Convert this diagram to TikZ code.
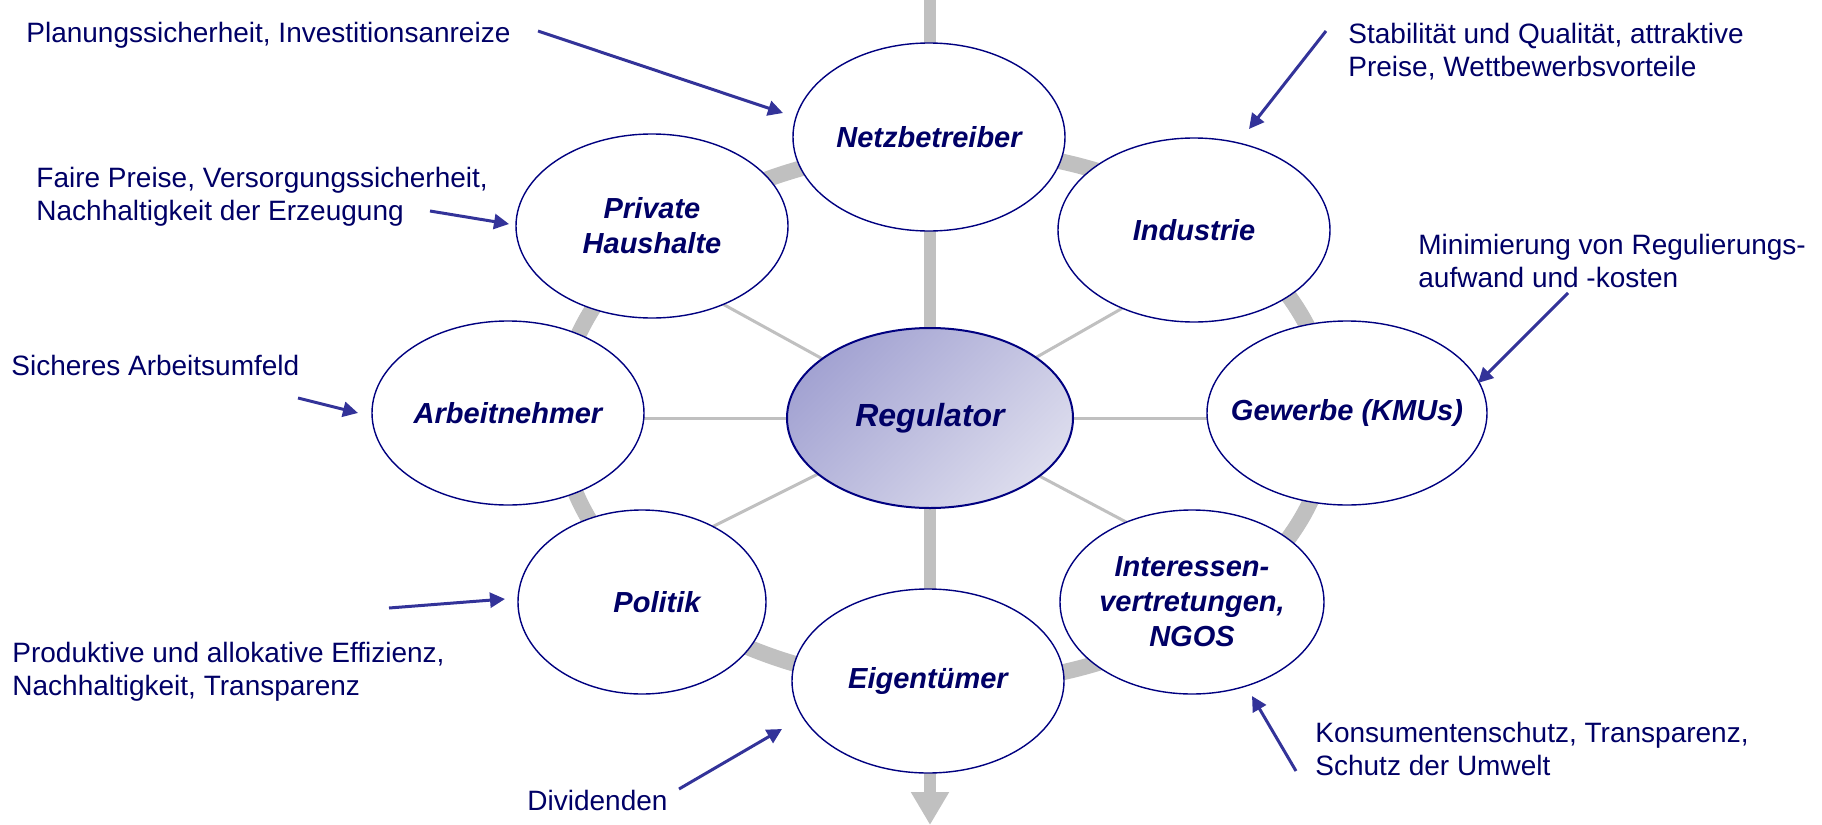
\documentclass[tikz,border=0pt]{standalone}
\usepackage{fontspec}
\setmainfont{Liberation Sans}
\usetikzlibrary{shapes.geometric,arrows.meta}
\definecolor{navytext}{HTML}{000066}
\definecolor{navyline}{HTML}{000080}
\definecolor{arrowblue}{HTML}{333399}
\definecolor{ringgray}{HTML}{C0C0C0}
\definecolor{regdark}{HTML}{A3A3D2}
\definecolor{reglight}{HTML}{DCDCED}
% first-line-baseline block of left aligned lines
\newcommand{\notelines}[1]{\begin{tabular}[t]{@{}l@{}}#1\end{tabular}}
\begin{document}
\begin{tikzpicture}[x=0.5pt,y=-0.5pt,
  party/.style={ellipse, draw=navyline, line width=0.7pt, fill=white,
    minimum width=136pt, minimum height=92pt, inner sep=-20pt, align=center,
    text=navytext, font=\fontsize{14.5}{17.5}\selectfont\bfseries\itshape},
  hub/.style={ellipse, draw=navyline, line width=1pt,
    top color=regdark, bottom color=reglight, shading angle=45,
    minimum width=143pt, minimum height=90pt, inner sep=-20pt,
    text=navytext, font=\fontsize{16}{19}\selectfont\bfseries\itshape},
  note/.style={anchor=base west, inner sep=0pt, text=navytext,
    font=\fontsize{14}{16.5}\selectfont},
  pointer/.style={draw=arrowblue, line width=1.5pt,
    -{Triangle[length=7.5pt,width=7.5pt]}},
  spoke/.style={draw=ringgray, line width=1.5pt},
  ring/.style={draw=ringgray, line width=8pt},
  axisflow/.style={draw=ringgray, line width=6pt,
    -{Triangle[length=16.5pt,width=18pt]}},
]
\useasboundingbox (0,0) rectangle (1822,825);

% background structure: gray ring, through-going axis and spokes
\draw[ring] (945,417) ellipse [x radius=192.5pt, y radius=134pt];
\coordinate (axtop) at (930,0);
\coordinate (axbot) at (930,825);
\draw[axisflow] (axtop) -- (axbot);

\coordinate (reg-c) at (930,418);
\coordinate (phh-in) at (690,286);
\coordinate (ind-in) at (1170,281);
\coordinate (pol-in) at (700,533);
\coordinate (int-in) at (1160,540);
\coordinate (arb-in) at (600,418);
\coordinate (gew-in) at (1300,418);
\foreach \t in {phh-in,ind-in,pol-in,int-in,arb-in,gew-in}
  \draw[spoke] (reg-c) -- (\t);

% stakeholders
\node[party, minimum height=94pt] (netz) at (929,137) {Netzbetreiber};
\node[party] (phh) at (652,226) {Private\\Haushalte};
\node[party] (ind) at (1194,230) {Industrie};
\node[party] (arb) at (508,413) {Arbeitnehmer};
\node[party, minimum width=140pt] (gew) at (1347,413) {Gewerbe (KMUs)};
\node[party, minimum width=124pt] (pol) at (642,602) {\hspace*{15pt}Politik};
\node[party, minimum width=132pt] (int) at (1192,602) {Interessen-\\vertretungen,\\NGOS};
\node[party] (eig) at (928,681) {Eigentümer};
\node[hub] (reg) at (reg-c) {Regulator};

% expectations of each group
\node[note] (t-netz) at (26,42) {Planungssicherheit, Investitionsanreize};
\node[note] (t-ind) at (1348,43) {\notelines{Stabilität und Qualität, attraktive\\Preise, Wettbewerbsvorteile}};
\node[note] (t-phh) at (36,187) {\notelines{Faire Preise, Versorgungssicherheit,\\Nachhaltigkeit der Erzeugung}};
\node[note] (t-arb) at (11,375) {Sicheres Arbeitsumfeld};
\node[note] (t-gew) at (1418,254) {\notelines{Minimierung von Regulierungs-\\aufwand und -kosten}};
\node[note] (t-pol) at (12,662) {\notelines{Produktive und allokative Effizienz,\\Nachhaltigkeit, Transparenz}};
\node[note] (t-eig) at (527,810) {Dividenden};
\node[note] (t-int) at (1315,742) {\notelines{Konsumentenschutz, Transparenz,\\Schutz der Umwelt}};

% pointers from the expectations to the groups
\coordinate (p-netz-a) at (538,31);   \coordinate (p-netz-b) at (783,113);
\coordinate (p-ind-a)  at (1326,31);  \coordinate (p-ind-b)  at (1249,129);
\coordinate (p-phh-a)  at (430,211);  \coordinate (p-phh-b)  at (509,224);
\coordinate (p-arb-a)  at (298,398);  \coordinate (p-arb-b)  at (358,413);
\coordinate (p-gew-a)  at (1568,293); \coordinate (p-gew-b)  at (1478,383);
\coordinate (p-pol-a)  at (389,608);  \coordinate (p-pol-b)  at (505,599);
\coordinate (p-eig-a)  at (679,789);  \coordinate (p-eig-b)  at (782,729);
\coordinate (p-int-a)  at (1296,771); \coordinate (p-int-b)  at (1252,696);
\foreach \g in {netz,ind,phh,arb,gew,pol,eig,int}
  \draw[pointer] (p-\g-a) -- (p-\g-b);
\end{tikzpicture}
\end{document}
